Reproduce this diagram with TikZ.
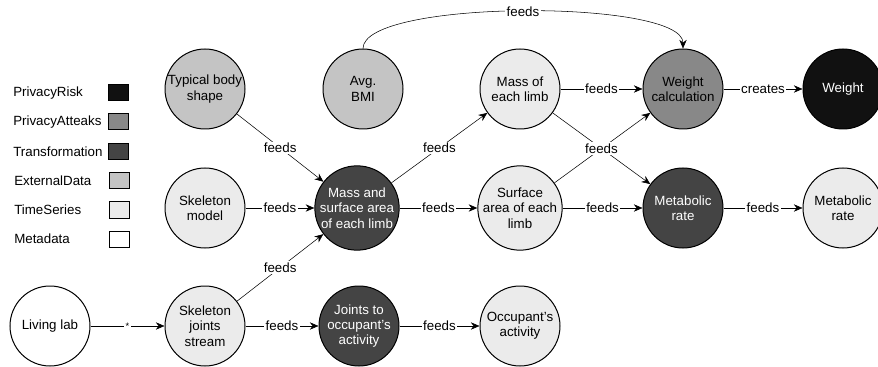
\documentclass[tikz,border=0pt]{standalone}
\usepackage{fontspec}
\setmainfont{Liberation Sans}
\usetikzlibrary{arrows.meta}

\definecolor{riskc}{HTML}{111111}
\definecolor{attackc}{HTML}{888888}
\definecolor{transc}{HTML}{444444}
\definecolor{extc}{HTML}{C4C4C4}
\definecolor{tsc}{HTML}{EBEBEB}

\begin{document}
\begin{tikzpicture}[x=0.75pt,y=-0.75pt,>={Stealth[length=6.5pt,width=5.5pt]},
        font=\fontsize{10}{11.5}\selectfont,
        lbl/.style={fill=white,inner sep=1pt}]
            \useasboundingbox (0,0) rectangle (878,367);
            \begin{scope}[every node/.style={circle,draw=black,line width=0.75pt,minimum size=60pt,inner sep=0pt,align=center}]
                \node[fill=extc] (tbs) at (205,89) {Typical body\\shape};
                \node[fill=extc] (bmi) at (363,89) {Avg.\\BMI};
                \node[fill=tsc] (mlimb) at (520,89) {Mass of\\each limb};
                \node[fill=attackc] (wcalc) at (683,89) {Weight\\calculation};
                \node[fill=riskc,text=white] (weight) at (843,89) {Weight};
                \node[fill=tsc] (skel) at (205,208) {Skeleton\\model};
                \node[fill=transc,text=white] (msa) at (357,208) {Mass and\\surface area\\of each limb};
                \node[fill=tsc] (slimb) at (520,208) {Surface\\area of each\\limb};
                \node[fill=transc,text=white] (mrate) at (683,208) {Metabolic\\rate};
                \node[fill=tsc] (mrateout) at (843,208) {Metabolic\\rate};
                \node[fill=white] (lab) at (50,326) {Living lab};
                \node[fill=tsc] (joints) at (205,326) {Skeleton\\joints\\stream};
                \node[fill=transc,text=white] (jact) at (359,326) {Joints to\\occupant's\\activity};
                \node[fill=tsc] (act) at (520,326) {Occupant's\\activity};
            \end{scope}
            % legend
            \begin{scope}[every node/.style={anchor=west,inner sep=0pt}]
                \node (trisk) at (13,93) {PrivacyRisk};
                \node (tattack) at (13,122) {PrivacyAtteaks};
                \node (ttrans) at (13,152) {Transformation};
                \node (text) at (14,181) {ExternalData};
                \node (tts) at (14,210) {TimeSeries};
                \node (tmeta) at (14,239) {Metadata};
            \end{scope}
            \begin{scope}[every node/.style={draw=black,line width=0.75pt,minimum width=15pt,minimum height=12pt,inner sep=0pt}]
                \node[fill=riskc] (brisk) at (118,93) {};
                \node[fill=attackc] (battack) at (118,122) {};
                \node[fill=transc] (btrans) at (118,152) {};
                \node[fill=extc] (bext) at (119,181) {};
                \node[fill=tsc] (bts) at (119,210) {};
                \node[fill=white] (bmeta) at (119,239) {};
            \end{scope}
            \draw (tbs) edge [->] node[lbl]{feeds} (msa);
            \draw (skel) edge [->] node[lbl]{feeds} (msa);
            \draw (joints) edge [->] node[lbl]{feeds} (msa);
            \draw (msa) edge [->] node[lbl]{feeds} (mlimb);
            \draw (msa) edge [->] node[lbl]{feeds} (slimb);
            \draw (mlimb) edge [->] node[lbl]{feeds} (wcalc);
            \draw (slimb) edge [->] (wcalc);
            \draw (mlimb) edge [->] node[lbl]{feeds} (mrate);
            \draw (slimb) edge [->] node[lbl]{feeds} (mrate);
            \draw (wcalc) edge [->] node[lbl]{creates} (weight);
            \draw (mrate) edge [->] node[lbl]{feeds} (mrateout);
            \draw (lab) edge [->] node[lbl,font=\fontsize{7}{7}\selectfont]{*} (joints);
            \draw (joints) edge [->] node[lbl]{feeds} (jact);
            \draw (jact) edge [->] node[lbl]{feeds} (act);
            \draw[->] (bmi) .. controls +(0,-90) and +(0,-90) .. node[lbl]{feeds} (wcalc);
        \end{tikzpicture}
\end{document}
